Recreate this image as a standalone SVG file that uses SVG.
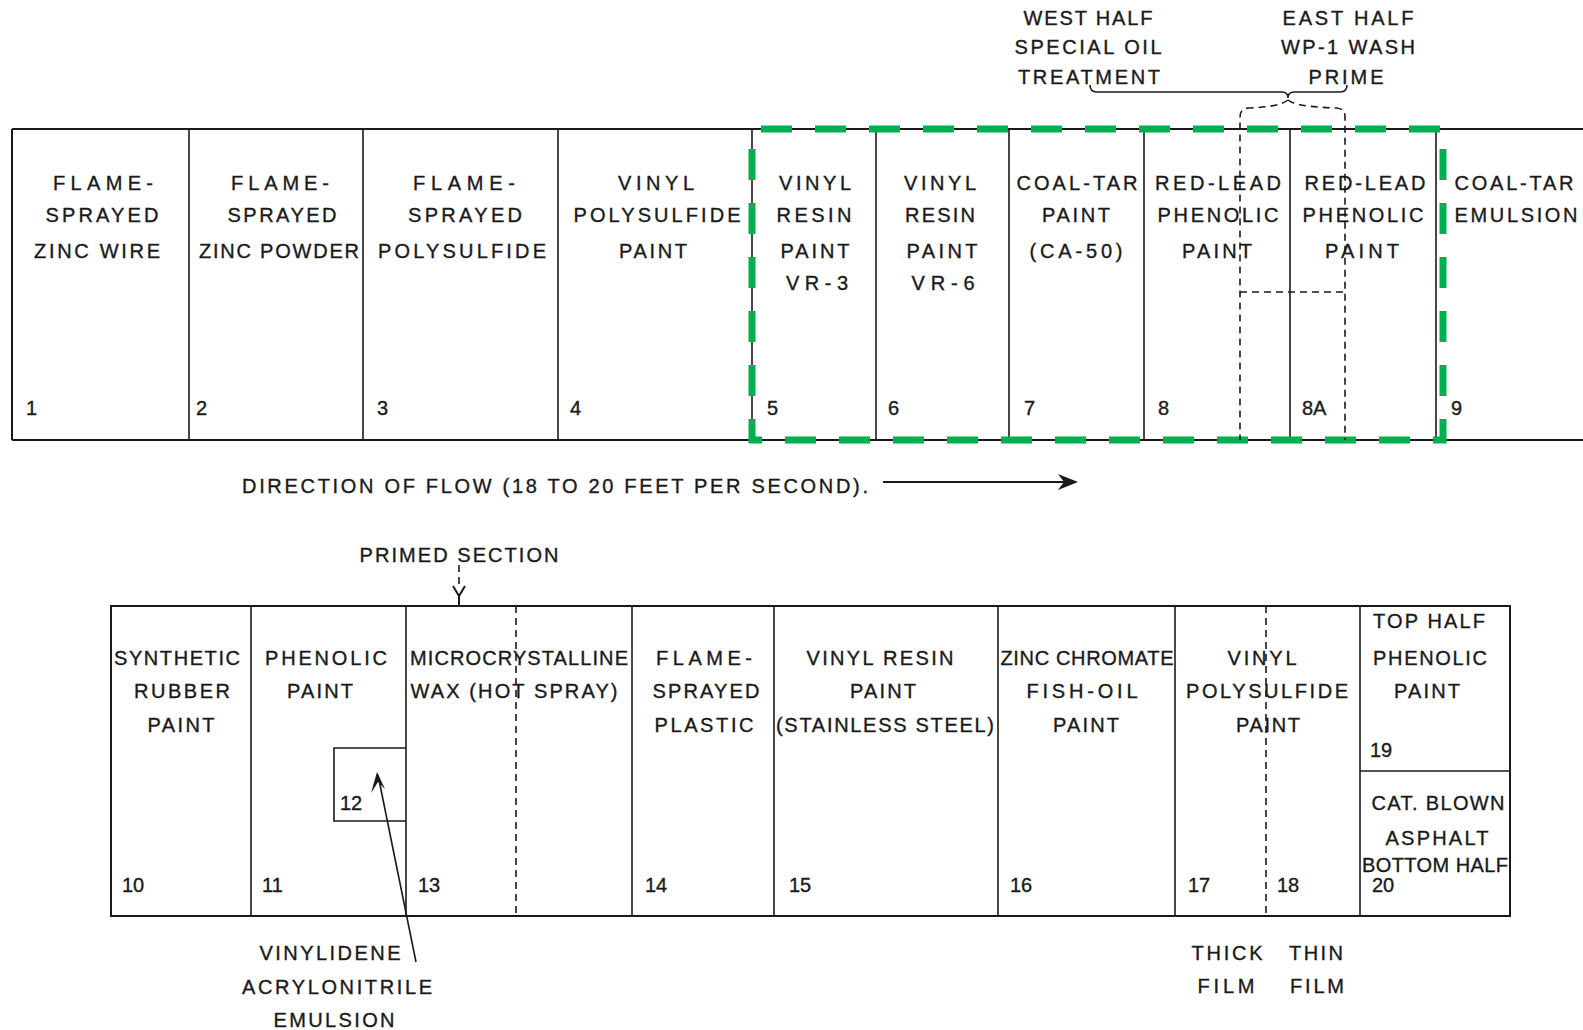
<svg xmlns="http://www.w3.org/2000/svg" width="1583" height="1030" viewBox="0 0 1583 1030">
<style>
.t{font-family:"Liberation Sans",Arial,sans-serif;font-size:20px;fill:#1a1a1a;stroke:#1a1a1a;stroke-width:0.35;text-anchor:middle}
.n{font-family:"Liberation Sans",Arial,sans-serif;font-size:20px;fill:#1a1a1a;stroke:#1a1a1a;stroke-width:0.35;text-anchor:start}
.ln{stroke:#1a1a1a;stroke-width:2;fill:none}
.th{stroke:#1a1a1a;stroke-width:1.6;fill:none}
.ds{stroke:#1a1a1a;stroke-width:1.6;fill:none;stroke-dasharray:7 5}
.green{stroke:#00b050;stroke-width:7;fill:none;stroke-dasharray:31 23;stroke-dashoffset:45}
</style>
<rect width="1583" height="1030" fill="#ffffff"/>

<!-- top row frame -->
<g id="top-frame">
<path class="ln" d="M12 129 H1583 M12 440 H1583 M12 129 V440"/>
</g>

<g id="n1"><path class="th" d="M189 129 V440"/>
<text class="t" x="103" y="190" textLength="100">FLAME-</text>
<text class="t" x="102" y="222" textLength="113">SPRAYED</text>
<text class="t" x="97" y="258" textLength="126">ZINC WIRE</text>
<text class="n" x="26" y="415">1</text></g>

<g id="n2"><path class="th" d="M363 129 V440"/>
<text class="t" x="280" y="190" textLength="98">FLAME-</text>
<text class="t" x="282" y="222" textLength="109">SPRAYED</text>
<text class="t" x="279" y="258" textLength="160">ZINC POWDER</text>
<text class="n" x="196" y="415">2</text></g>

<g id="n3"><path class="th" d="M558 129 V440"/>
<text class="t" x="464" y="190" textLength="102">FLAME-</text>
<text class="t" x="465" y="222" textLength="114">SPRAYED</text>
<text class="t" x="462" y="258" textLength="168">POLYSULFIDE</text>
<text class="n" x="377" y="415">3</text></g>

<g id="n4"><path class="th" d="M752 129 V440"/>
<text class="t" x="656" y="190" textLength="76">VINYL</text>
<text class="t" x="657" y="222" textLength="167">POLYSULFIDE</text>
<text class="t" x="653" y="258" textLength="68">PAINT</text>
<text class="n" x="570" y="415">4</text></g>

<g id="n5"><path class="th" d="M876 129 V440"/>
<text class="t" x="815" y="190" textLength="72">VINYL</text>
<text class="t" x="814" y="222" textLength="75">RESIN</text>
<text class="t" x="815" y="258" textLength="69">PAINT</text>
<text class="t" x="817" y="290" textLength="62">VR-3</text>
<text class="n" x="767" y="415">5</text></g>

<g id="n6"><path class="th" d="M1009 129 V440"/>
<text class="t" x="940" y="190" textLength="72">VINYL</text>
<text class="t" x="940" y="222" textLength="70">RESIN</text>
<text class="t" x="942" y="258" textLength="71">PAINT</text>
<text class="t" x="943" y="290" textLength="63">VR-6</text>
<text class="n" x="888" y="415">6</text></g>

<g id="n7"><path class="th" d="M1144 129 V440"/>
<text class="t" x="1077" y="190" textLength="121">COAL-TAR</text>
<text class="t" x="1076" y="222" textLength="68">PAINT</text>
<text class="t" x="1076" y="258" textLength="93">(CA-50)</text>
<text class="n" x="1024" y="415">7</text></g>

<g id="n8"><path class="th" d="M1290 129 V440"/>
<text class="t" x="1218" y="190" textLength="126">RED-LEAD</text>
<text class="t" x="1218" y="222" textLength="121">PHENOLIC</text>
<text class="t" x="1217" y="258" textLength="70">PAINT</text>
<text class="n" x="1158" y="415">8</text></g>

<g id="n8A"><path class="th" d="M1436 129 V440"/>
<text class="t" x="1365" y="190" textLength="121">RED-LEAD</text>
<text class="t" x="1363" y="222" textLength="121">PHENOLIC</text>
<text class="t" x="1362" y="258" textLength="74">PAINT</text>
<text class="n" x="1302" y="415">8A</text></g>

<g id="n9">
<text class="t" x="1514" y="190" textLength="119">COAL-TAR</text>
<text class="t" x="1516" y="222" textLength="123">EMULSION</text>
<text class="n" x="1451" y="415">9</text></g>

<g id="west-half">
<text class="t" x="1088" y="25" textLength="129">WEST HALF</text>
<text class="t" x="1088" y="54" textLength="147">SPECIAL OIL</text>
<text class="t" x="1089" y="84" textLength="142">TREATMENT</text></g>

<g id="east-half">
<text class="t" x="1348" y="25" textLength="131">EAST HALF</text>
<text class="t" x="1348" y="54" textLength="134">WP-1 WASH</text>
<text class="t" x="1346" y="84" textLength="75">PRIME</text></g>

<g id="flow">
<text class="n" x="242" y="493" textLength="626">DIRECTION OF FLOW (18 TO 20 FEET PER SECOND).</text></g>

<!-- bottom row -->
<g id="bottom-frame">
<rect class="ln" x="111" y="606" width="1399" height="310"/>
</g>

<g id="n10"><path class="th" d="M251 606 V916"/>
<text class="t" x="177" y="665" textLength="126">SYNTHETIC</text>
<text class="t" x="182" y="698" textLength="96">RUBBER</text>
<text class="t" x="181" y="732" textLength="67">PAINT</text>
<text class="n" x="122" y="892">10</text></g>

<g id="n11"><path class="th" d="M406 606 V916"/>
<text class="t" x="326" y="665" textLength="122">PHENOLIC</text>
<text class="t" x="320" y="698" textLength="66">PAINT</text>
<text class="n" x="262" y="892">11</text></g>

<g id="n12"><path class="th" d="M406 748 H334 V821 H406"/>
<text class="n" x="340" y="810">12</text></g>

<g id="n13"><path class="th" d="M632 606 V916"/><path class="ds" d="M516 606 V916"/>
<text class="t" x="519" y="665" textLength="218">MICROCRYSTALLINE</text>
<text class="t" x="514" y="698" textLength="207">WAX (HOT SPRAY)</text>
<text class="n" x="418" y="892">13</text></g>

<g id="n14"><path class="th" d="M774 606 V916"/>
<text class="t" x="704" y="665" textLength="96">FLAME-</text>
<text class="t" x="706" y="698" textLength="107">SPRAYED</text>
<text class="t" x="704" y="732" textLength="99">PLASTIC</text>
<text class="n" x="645" y="892">14</text></g>

<g id="n15"><path class="th" d="M998 606 V916"/>
<text class="t" x="880" y="665" textLength="147">VINYL RESIN</text>
<text class="t" x="883" y="698" textLength="66">PAINT</text>
<text class="t" x="885" y="732" textLength="218">(STAINLESS STEEL)</text>
<text class="n" x="789" y="892">15</text></g>

<g id="n16"><path class="th" d="M1175 606 V916"/>
<text class="t" x="1087" y="665" textLength="173">ZINC CHROMATE</text>
<text class="t" x="1082" y="698" textLength="111">FISH-OIL</text>
<text class="t" x="1086" y="732" textLength="66">PAINT</text>
<text class="n" x="1010" y="892">16</text></g>

<g id="n17-18"><path class="th" d="M1360 606 V916"/><path class="ds" d="M1266 606 V916"/>
<text class="t" x="1262" y="665" textLength="69">VINYL</text>
<text class="t" x="1267" y="698" textLength="162">POLYSULFIDE</text>
<text class="t" x="1268" y="732" textLength="64">PAINT</text>
<text class="n" x="1188" y="892">17</text>
<text class="n" x="1277" y="892">18</text>
<text class="t" x="1227" y="960" textLength="71">THICK</text>
<text class="t" x="1226" y="993" textLength="57">FILM</text>
<text class="t" x="1316" y="960" textLength="54">THIN</text>
<text class="t" x="1317" y="993" textLength="54">FILM</text></g>

<g id="n19"><path class="th" d="M1360 771 H1510"/>
<text class="t" x="1429" y="628" textLength="112">TOP HALF</text>
<text class="t" x="1430" y="665" textLength="114">PHENOLIC</text>
<text class="t" x="1427" y="698" textLength="66">PAINT</text>
<text class="n" x="1370" y="757">19</text></g>

<g id="n20">
<text class="t" x="1438" y="810" textLength="133">CAT. BLOWN</text>
<text class="t" x="1437" y="845" textLength="103">ASPHALT</text>
<text class="t" x="1435" y="872" textLength="146">BOTTOM HALF</text>
<text class="n" x="1372" y="892">20</text></g>

<g id="primed-section">
<text class="t" x="459" y="562" textLength="199">PRIMED SECTION</text></g>

<g id="vinylidene">
<text class="t" x="330" y="960" textLength="141">VINYLIDENE</text>
<text class="t" x="337" y="994" textLength="190">ACRYLONITRILE</text>
<text class="t" x="334" y="1027" textLength="121">EMULSION</text></g>

<!-- connectors -->
<g id="connectors">
<path class="green" d="M752 129 H1443 V440 H752 Z"/>
<!-- brace -->
<path class="th" d="M1090 85 Q1090 92 1097 92 H1282 Q1288 92 1288 98 Q1288 92 1294 92 H1340 Q1347 92 1347 85"/>
<path class="ds" d="M1288 100 Q1280 107 1248 108 Q1240 109 1240 117 V440"/>
<path class="ds" d="M1288 100 Q1296 107 1337 108 Q1345 109 1345 117 V440"/>
<path class="ds" d="M1240 292 H1345"/>
<!-- flow arrow -->
<path class="ln" d="M883 482 H1072"/>
<path d="M1058 474 L1078 482 L1058 490 L1064 482 Z" fill="#1a1a1a"/>
<!-- primed section arrow -->
<path class="ds" d="M459 565 V585"/>
<path class="ln" d="M453 586 L459 596 L465 586 M459 596 V606"/>
<!-- 12 arrow -->
<path class="th" d="M416 962 L378 775"/>
<path d="M371 793 L377 772 L385 789 L378 782 Z" fill="#1a1a1a"/>
</g>
</svg>
